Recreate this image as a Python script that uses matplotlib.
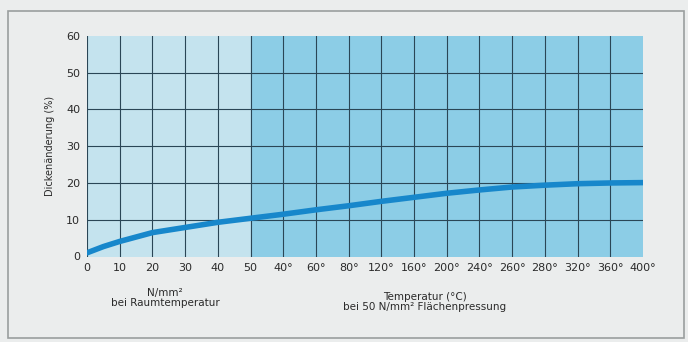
import matplotlib.pyplot as plt
from matplotlib.patches import Rectangle

# tick labels along the bottom (pressure first, then temperature)
x_labels = ["0", "10", "20", "30", "40", "50",
            "40°", "60°", "80°", "120°", "160°", "200°", "240°",
            "260°", "280°", "320°", "360°", "400°"]
y_ticks = [0, 10, 20, 30, 40, 50, 60]

# curve (x in tick-slot units)
curve_x = [0, 0.5, 1, 2, 3, 4, 5, 6, 7, 8, 9, 10, 11, 12, 13, 14, 15, 16, 17]
curve_y = [1.0, 2.7, 4.1, 6.5, 7.9, 9.3, 10.4, 11.5, 12.7, 13.8, 15.0,
           16.1, 17.2, 18.1, 18.9, 19.4, 19.8, 20.0, 20.1]

split = 5  # end of the room-temperature part

fig = plt.figure(figsize=(6.88, 3.42), dpi=100, facecolor="#ebeded")
ax = fig.add_axes([0.1265, 0.25, 0.808, 0.645])
ax.set_facecolor("none")

# outer frame of the scan
fig.patches.append(Rectangle((0.011, 0.012), 0.983, 0.955, transform=fig.transFigure,
                             fill=False, edgecolor="#9a9e9e", linewidth=1.2))

n = len(x_labels) - 1
ax.axvspan(0, split, color="#c4e3ee", zorder=0)
ax.axvspan(split, n, color="#8ccde6", zorder=0)

for i in range(n):
    ax.axvline(i, color="#2a4656", linewidth=0.8, zorder=1)
for v in y_ticks[1:-1]:
    ax.axhline(v, color="#2a4656", linewidth=0.8, zorder=1)

ax.plot(curve_x, curve_y, color="#1787cb", linewidth=4, solid_capstyle="round", zorder=3)

ax.set_xlim(0, n)
ax.set_ylim(0, 60)
ax.set_xticks(range(len(x_labels)))
ax.set_xticklabels(x_labels, fontsize=8, color="#2a2a2a")
ax.set_yticks(y_ticks)
ax.set_yticklabels([str(v) for v in y_ticks], fontsize=8, color="#2a2a2a")
ax.tick_params(length=0, pad=5)
for s in ax.spines.values():
    s.set_visible(False)

ax.set_ylabel("Dickenänderung (%)", fontsize=7, color="#2a2a2a", labelpad=8)

fig.text(165 / 688, 1 - 298 / 342, "N/mm²\nbei Raumtemperatur", ha="center", va="center",
         fontsize=7.5, color="#2a2a2a", linespacing=1.1)
fig.text(425 / 688, 1 - 302 / 342, "Temperatur (°C)\nbei 50 N/mm² Flächenpressung", ha="center",
         va="center", fontsize=7.5, color="#2a2a2a", linespacing=1.1)

fig.savefig("out.png", dpi=100, facecolor=fig.get_facecolor())
